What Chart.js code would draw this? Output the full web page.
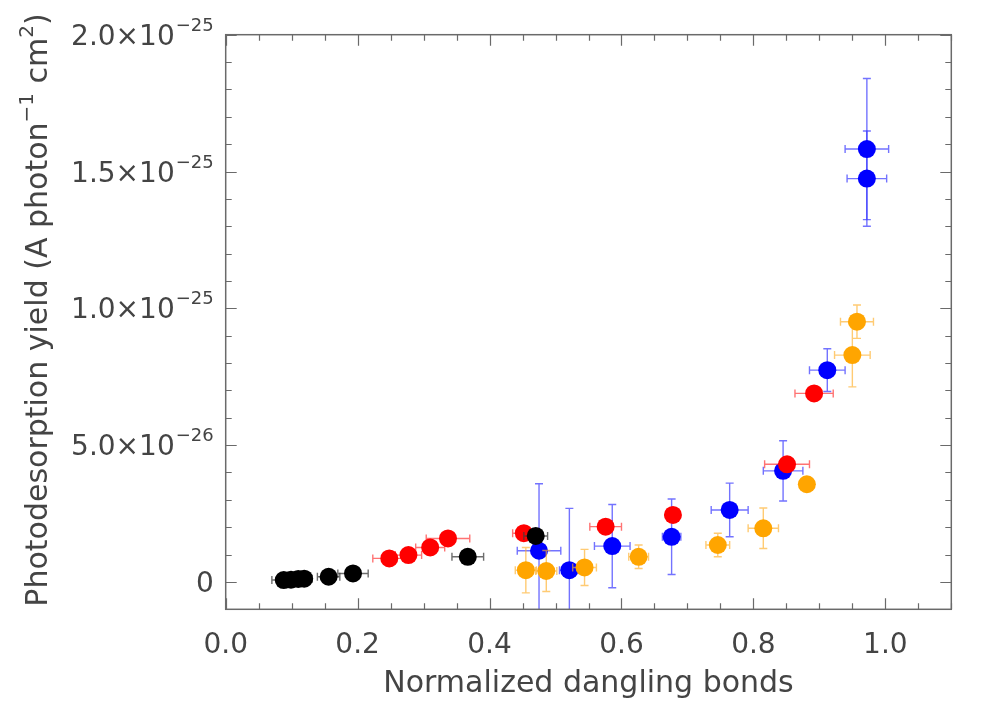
<!DOCTYPE html>
<html>
<head>
<meta charset="utf-8">
<script src="https://cdn.jsdelivr.net/npm/chart.js@4/dist/chart.umd.min.js"></script>
<style>
html,body{margin:0;padding:0;background:#fff;}
#wrap{width:981px;height:701px;position:relative;}
</style>
</head>
<body>
<div id="wrap"><canvas id="c"></canvas></div>
<script>
// y values are in units of 1e-26 A photon^-1 cm^2
const Y_UNIT_EXP = -26;

const blackX    = [0.088, 0.099, 0.110, 0.119, 0.156, 0.193, 0.367, 0.470];
const blackY    = [0.07, 0.08, 0.11, 0.12, 0.19, 0.31, 0.92, 1.68];
const blackXErr = [0.018, 0.010, 0.010, 0.012, 0.017, 0.023, 0.024, 0.018];

const redX    = [0.248, 0.277, 0.310, 0.337, 0.452, 0.576, 0.678, 0.851, 0.892];
const redY    = [0.86, 0.98, 1.26, 1.59, 1.78, 2.02, 2.45, 4.30, 6.89];
const redXErr = [0.025, 0.020, 0.022, 0.033, 0.017, 0.024, 0.010, 0.034, 0.029];

const blueX    = [0.475, 0.521, 0.586, 0.676, 0.764, 0.845, 0.912, 0.972, 0.972];
const blueY    = [1.14, 0.43, 1.31, 1.65, 2.63, 4.06, 7.74, 15.82, 14.74];
const blueXErr = [0.033, 0.015, 0.027, 0.014, 0.028, 0.030, 0.027, 0.033, 0.030];
const blueYErr = [2.45, 2.26, 1.52, 1.38, 0.98, 1.10, 0.78, 2.58, 1.74];

const orangeX    = [0.455, 0.486, 0.544, 0.626, 0.746, 0.815, 0.881, 0.950, 0.957];
const orangeY    = [0.43, 0.40, 0.53, 0.92, 1.35, 1.96, 3.57, 8.29, 9.51];
const orangeXErr = [0.016, 0.016, 0.018, 0.015, 0.018, 0.023, 0.010, 0.027, 0.025];
const orangeYErr = [0.83, 0.75, 0.66, 0.43, 0.43, 0.74, 0.15, 1.16, 0.61];

const yTickLabels = [
  {v: 0,  base: '0',      exp: ''},
  {v: 5,  base: '5.0×10', exp: '−26'},
  {v: 10, base: '1.0×10', exp: '−25'},
  {v: 15, base: '1.5×10', exp: '−25'},
  {v: 20, base: '2.0×10', exp: '−25'}
];
const xTitle = 'Normalized dangling bonds';
const yTitleParts = [
  {t: 'Photodesorption yield (A photon', sup: false},
  {t: '−1', sup: true},
  {t: ' cm', sup: false},
  {t: '2', sup: true},
  {t: ')', sup: false}
];

const FONT = "'DejaVu Sans', sans-serif";
const TEXT_COLOR = '#444';
const AXIS_COLOR = '#6a6a6a';

function pts(xs, ys) { return xs.map((x, i) => ({x: x, y: ys[i]})); }

function mkSet(label, xs, ys, xe, ye, color, errColor, order) {
  return {
    label: label,
    data: pts(xs, ys),
    errX: xe, errY: ye,
    errColor: errColor,
    backgroundColor: color,
    borderColor: color,
    borderWidth: 0,
    pointRadius: 9,
    pointHoverRadius: 9,
    order: order
  };
}

const errorBars = {
  id: 'errorBars',
  beforeDatasetDraw(chart, args) {
    const ds = chart.data.datasets[args.index];
    const xs = chart.scales.x, ys = chart.scales.y;
    const ca = chart.chartArea;
    const ctx = chart.ctx;
    ctx.save();
    ctx.beginPath();
    ctx.rect(ca.left, ca.top, ca.right - ca.left, ca.bottom - ca.top);
    ctx.clip();
    ctx.strokeStyle = ds.errColor;
    ctx.lineWidth = 1.4;
    const cap = 4;
    ds.data.forEach((p, i) => {
      const px = xs.getPixelForValue(p.x), py = ys.getPixelForValue(p.y);
      const ex = ds.errX ? ds.errX[i] : 0;
      const ey = ds.errY ? ds.errY[i] : 0;
      ctx.beginPath();
      if (ex > 0) {
        const x1 = xs.getPixelForValue(p.x - ex), x2 = xs.getPixelForValue(p.x + ex);
        ctx.moveTo(x1, py); ctx.lineTo(x2, py);
        ctx.moveTo(x1, py - cap); ctx.lineTo(x1, py + cap);
        ctx.moveTo(x2, py - cap); ctx.lineTo(x2, py + cap);
      }
      if (ey > 0) {
        const y1 = ys.getPixelForValue(p.y - ey), y2 = ys.getPixelForValue(p.y + ey);
        ctx.moveTo(px, y1); ctx.lineTo(px, y2);
        ctx.moveTo(px - cap, y1); ctx.lineTo(px + cap, y1);
        ctx.moveTo(px - cap, y2); ctx.lineTo(px + cap, y2);
      }
      ctx.stroke();
    });
    ctx.restore();
  }
};

const frameAndLabels = {
  id: 'frameAndLabels',
  afterDraw(chart) {
    const ctx = chart.ctx, ca = chart.chartArea;
    const xs = chart.scales.x, ys = chart.scales.y;
    ctx.save();
    ctx.strokeStyle = AXIS_COLOR;
    ctx.lineWidth = 1.5;
    ctx.strokeRect(ca.left, ca.top, ca.right - ca.left, ca.bottom - ca.top);
    ctx.lineWidth = 1.2;
    ctx.beginPath();
    for (let k = 0; k <= 22; k++) {
      const px = Math.round(xs.getPixelForValue(k * 0.05)) + 0.5;
      const len = (k % 4 === 0) ? 11 : 6;
      ctx.moveTo(px, ca.bottom); ctx.lineTo(px, ca.bottom - len);
      ctx.moveTo(px, ca.top); ctx.lineTo(px, ca.top + len);
    }
    for (let v = -1; v <= 20; v++) {
      const py = Math.round(ys.getPixelForValue(v)) + 0.5;
      const len = (v % 5 === 0) ? 11 : 6;
      ctx.moveTo(ca.left, py); ctx.lineTo(ca.left + len, py);
      ctx.moveTo(ca.right, py); ctx.lineTo(ca.right - len, py);
    }
    ctx.stroke();

    // y tick labels with superscript exponents
    ctx.fillStyle = TEXT_COLOR;
    const rightEdge = ca.left - 12;
    yTickLabels.forEach(l => {
      const py = ys.getPixelForValue(l.v);
      ctx.textAlign = 'right';
      ctx.textBaseline = 'alphabetic';
      let xr = rightEdge;
      if (l.exp) {
        ctx.font = '18px ' + FONT;
        ctx.fillText(l.exp, xr, py - 4);
        xr -= ctx.measureText(l.exp).width + 1;
      }
      ctx.font = '28px ' + FONT;
      ctx.fillText(l.base, xr, py + 10);
    });

    // y axis title, rotated, with superscripts
    const mainFont = '30px ' + FONT, supFont = '20px ' + FONT;
    let total = 0;
    yTitleParts.forEach(p => { ctx.font = p.sup ? supFont : mainFont; p.w = ctx.measureText(p.t).width; total += p.w; });
    const cy = (ca.top + ca.bottom) / 2 - 12;
    ctx.translate(36, cy);
    ctx.rotate(-Math.PI / 2);
    ctx.textAlign = 'left';
    let x = -total / 2;
    yTitleParts.forEach(p => {
      ctx.font = p.sup ? supFont : mainFont;
      ctx.fillText(p.t, x, p.sup ? -3 : 11);
      x += p.w;
    });
    ctx.restore();
  }
};

new Chart(document.getElementById('c'), {
  type: 'scatter',
  data: {
    datasets: [
      mkSet('black', blackX, blackY, blackXErr, null, '#000000', 'rgba(60,60,60,0.75)', 0),
      mkSet('red', redX, redY, redXErr, null, '#ff0000', 'rgba(255,40,40,0.65)', 1),
      mkSet('orange', orangeX, orangeY, orangeXErr, orangeYErr, '#ffa500', 'rgba(255,175,40,0.65)', 2),
      mkSet('blue', blueX, blueY, blueXErr, blueYErr, '#0000ff', 'rgba(40,40,255,0.65)', 3)
    ]
  },
  options: {
    responsive: true,
    maintainAspectRatio: false,
    animation: false,
    layout: {padding: {left: 0, right: 29.7, top: 34.7, bottom: 0}},
    plugins: {legend: {display: false}, tooltip: {enabled: false}},
    scales: {
      x: {
        type: 'linear', min: 0, max: 1.1,
        grid: {display: false, drawTicks: false},
        border: {display: false},
        ticks: {
          stepSize: 0.05, autoSkip: false, maxRotation: 0, padding: 20,
          color: TEXT_COLOR, font: {family: FONT, size: 28},
          callback: v => { const k = Math.round(v * 20); return k % 4 === 0 ? (k / 20).toFixed(1) : ''; }
        },
        title: {display: true, text: xTitle, color: TEXT_COLOR,
                font: {family: FONT, size: 30, lineHeight: 1.1}, padding: {top: 0, bottom: 0}},
        afterFit: s => { s.height = 91.7; }
      },
      y: {
        type: 'linear', min: -1, max: 20,
        grid: {display: false, drawTicks: false},
        border: {display: false},
        ticks: {display: false, stepSize: 1},
        afterFit: s => { s.width = 225.7; }
      }
    }
  },
  plugins: [errorBars, frameAndLabels]
});
</script>
</body>
</html>
